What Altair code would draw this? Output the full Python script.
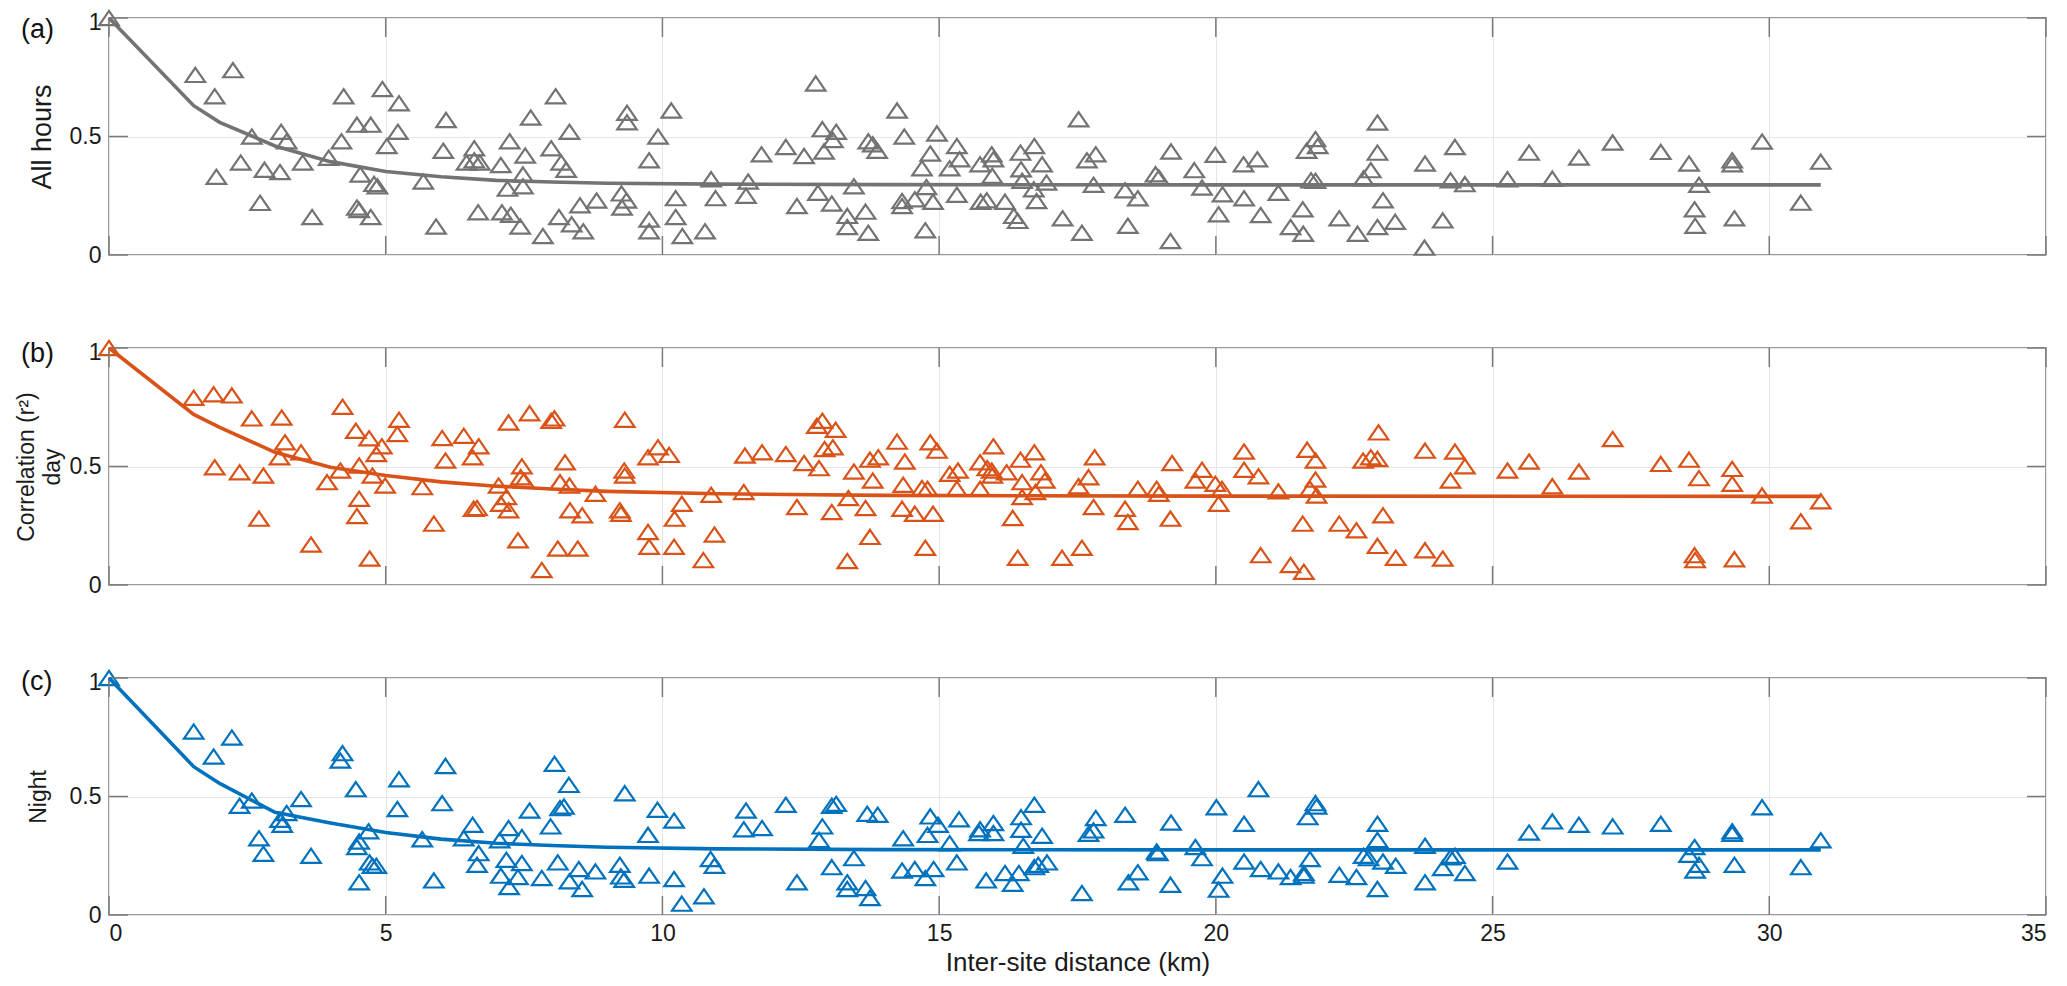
import pandas as pd
import altair as alt

# (distance km, r^2) for each pair of sites
all_hours = [
    (0, 1.0), (1.56, 0.76), (2.24, 0.78), (1.91, 0.67), (1.94, 0.33), (2.38, 0.39), (2.58, 0.50),
    (2.81, 0.36), (2.73, 0.22), (3.11, 0.52), (3.21, 0.48), (3.09, 0.35), (3.50, 0.39), (3.67, 0.16),
    (3.97, 0.41), (4.20, 0.48), (4.24, 0.67), (4.48, 0.55), (4.73, 0.55), (4.54, 0.34), (4.48, 0.20),
    (4.52, 0.19), (4.73, 0.16), (4.79, 0.30), (4.85, 0.29), (4.94, 0.70), (5.02, 0.46), (5.24, 0.64),
    (5.22, 0.52), (5.68, 0.31), (5.91, 0.12), (6.09, 0.57), (6.04, 0.44), (6.46, 0.39), (6.60, 0.45),
    (6.60, 0.40), (6.70, 0.39), (6.67, 0.18), (7.08, 0.38), (7.10, 0.18), (7.24, 0.48), (7.26, 0.17),
    (7.43, 0.12), (7.52, 0.42), (7.48, 0.34), (7.48, 0.29), (7.20, 0.28), (7.62, 0.58), (7.84, 0.08),
    (7.99, 0.45), (8.07, 0.67), (8.17, 0.39), (8.26, 0.36), (8.32, 0.52), (8.13, 0.16), (8.36, 0.13),
    (8.51, 0.21), (8.57, 0.10), (8.81, 0.23), (9.26, 0.26), (9.35, 0.23), (9.27, 0.20), (9.36, 0.60),
    (9.36, 0.56), (9.76, 0.40), (9.76, 0.15), (9.76, 0.10), (9.92, 0.50), (10.16, 0.61), (10.24, 0.24),
    (10.24, 0.16), (10.36, 0.08), (10.77, 0.10), (10.88, 0.32), (10.96, 0.24), (11.51, 0.25), (11.55, 0.31),
    (11.79, 0.425), (12.23, 0.456), (12.56, 0.418), (12.43, 0.207), (12.77, 0.724), (12.89, 0.531),
    (13.14, 0.52), (13.08, 0.485), (12.92, 0.437), (12.81, 0.263), (13.06, 0.217), (13.46, 0.29),
    (13.34, 0.165), (13.34, 0.118), (13.67, 0.183), (13.72, 0.094), (13.72, 0.48), (13.80, 0.467),
    (13.88, 0.44), (14.24, 0.61), (14.37, 0.50), (14.33, 0.228), (14.33, 0.207), (14.56, 0.235),
    (14.69, 0.366), (14.77, 0.287), (14.75, 0.104), (14.84, 0.428), (14.96, 0.513), (14.89, 0.225),
    (15.19, 0.366), (15.32, 0.46), (15.37, 0.404), (15.32, 0.254), (15.74, 0.383), (15.75, 0.225),
    (15.86, 0.231), (15.95, 0.425), (15.98, 0.404), (15.96, 0.334), (16.19, 0.225), (16.35, 0.165),
    (16.42, 0.144), (16.47, 0.432), (16.48, 0.362), (16.50, 0.313), (16.72, 0.46), (16.86, 0.383),
    (16.71, 0.277), (16.94, 0.306), (16.76, 0.228), (17.23, 0.155), (17.52, 0.573), (17.67, 0.40),
    (17.83, 0.425), (17.79, 0.296), (17.58, 0.094), (18.36, 0.273), (18.59, 0.239), (18.41, 0.123),
    (18.91, 0.341), (18.97, 0.327), (19.19, 0.437), (19.18, 0.059), (19.61, 0.358), (19.75, 0.285),
    (19.99, 0.423), (20.12, 0.256), (20.05, 0.172), (20.50, 0.383), (20.75, 0.404), (20.51, 0.239),
    (20.81, 0.169), (21.13, 0.263), (21.57, 0.193), (21.35, 0.118), (21.58, 0.09), (21.64, 0.44),
    (21.80, 0.489), (21.84, 0.46), (21.72, 0.315), (21.80, 0.313), (22.23, 0.155), (22.56, 0.09),
    (22.67, 0.324), (22.80, 0.358), (22.92, 0.559), (22.92, 0.432), (23.02, 0.231), (22.92, 0.118),
    (23.24, 0.14), (23.78, 0.386), (23.77, 0.031), (24.10, 0.146), (24.32, 0.456), (24.24, 0.315),
    (24.50, 0.299), (25.27, 0.32), (25.66, 0.432), (26.08, 0.322), (26.56, 0.411), (27.17, 0.475),
    (28.04, 0.435), (28.55, 0.386), (28.73, 0.296), (28.65, 0.193), (28.66, 0.123), (29.33, 0.40),
    (29.33, 0.383), (29.37, 0.155), (29.87, 0.479), (30.57, 0.221), (30.93, 0.394),
]

day = [
    (0, 1.0), (1.53, 0.79), (1.89, 0.805), (2.22, 0.80), (1.91, 0.497), (2.36, 0.476), (2.58, 0.703),
    (2.79, 0.462), (2.71, 0.28), (3.12, 0.707), (3.18, 0.602), (3.08, 0.539), (3.47, 0.56), (3.65, 0.171),
    (3.94, 0.434), (4.18, 0.483), (4.22, 0.752), (4.46, 0.651), (4.52, 0.504), (4.70, 0.619), (4.76, 0.462),
    (4.52, 0.364), (4.48, 0.291), (4.71, 0.112), (4.83, 0.553), (4.93, 0.585), (4.99, 0.42), (5.21, 0.637),
    (5.24, 0.697), (5.66, 0.413), (5.87, 0.259), (6.02, 0.62), (6.08, 0.525), (6.41, 0.63), (6.57, 0.539),
    (6.68, 0.585), (6.59, 0.322), (6.65, 0.325), (7.04, 0.42), (7.08, 0.343), (7.18, 0.371), (7.22, 0.315),
    (7.22, 0.686), (7.39, 0.189), (7.46, 0.501), (7.44, 0.455), (7.50, 0.441), (7.60, 0.725), (7.82, 0.063),
    (7.99, 0.693), (8.05, 0.703), (8.11, 0.154), (8.15, 0.434), (8.24, 0.518), (8.32, 0.42), (8.33, 0.315),
    (8.47, 0.154), (8.55, 0.294), (8.79, 0.385), (9.23, 0.315), (9.25, 0.301), (9.31, 0.483), (9.32, 0.462),
    (9.32, 0.697), (9.74, 0.539), (9.92, 0.581), (10.12, 0.549), (9.74, 0.224), (9.76, 0.161), (10.22, 0.28),
    (10.21, 0.161), (10.35, 0.343), (10.74, 0.105), (10.88, 0.381), (10.94, 0.213), (11.49, 0.546),
    (11.47, 0.392), (11.80, 0.56), (12.23, 0.553), (12.43, 0.329), (12.56, 0.515), (12.79, 0.672),
    (12.89, 0.693), (13.13, 0.655), (12.93, 0.574), (13.08, 0.581), (12.83, 0.493), (13.06, 0.308),
    (13.34, 0.101), (13.36, 0.367), (13.46, 0.479), (13.67, 0.325), (13.75, 0.203), (13.75, 0.529),
    (13.90, 0.539), (13.80, 0.441), (14.24, 0.605), (14.38, 0.521), (14.35, 0.423), (14.33, 0.322),
    (14.56, 0.301), (14.69, 0.409), (14.79, 0.406), (14.75, 0.157), (14.84, 0.602), (14.96, 0.567),
    (14.89, 0.301), (15.19, 0.469), (15.34, 0.483), (15.32, 0.406), (15.74, 0.406), (15.74, 0.518),
    (15.87, 0.493), (15.95, 0.483), (15.96, 0.462), (15.98, 0.585), (16.22, 0.476), (16.33, 0.283),
    (16.42, 0.115), (16.47, 0.529), (16.50, 0.434), (16.50, 0.371), (16.72, 0.56), (16.84, 0.476),
    (16.91, 0.441), (16.74, 0.392), (17.22, 0.115), (17.52, 0.417), (17.58, 0.157), (17.70, 0.455),
    (17.81, 0.539), (17.79, 0.329), (18.36, 0.322), (18.41, 0.266), (18.59, 0.406), (18.93, 0.406),
    (18.97, 0.385), (19.18, 0.28), (19.21, 0.515), (19.63, 0.441), (19.75, 0.486), (19.99, 0.427),
    (20.11, 0.406), (20.05, 0.343), (20.51, 0.563), (20.51, 0.486), (20.77, 0.459), (20.81, 0.126),
    (21.13, 0.395), (21.35, 0.084), (21.59, 0.056), (21.57, 0.259), (21.65, 0.571), (21.80, 0.525),
    (21.80, 0.445), (21.70, 0.406), (21.82, 0.378), (22.23, 0.259), (22.54, 0.231), (22.66, 0.525),
    (22.80, 0.539), (22.92, 0.532), (22.94, 0.644), (23.02, 0.294), (22.92, 0.165), (23.25, 0.115),
    (23.78, 0.567), (23.78, 0.147), (24.10, 0.112), (24.32, 0.563), (24.50, 0.501), (24.24, 0.441),
    (25.27, 0.483), (25.66, 0.521), (26.08, 0.417), (26.56, 0.479), (27.17, 0.616), (28.04, 0.511),
    (28.55, 0.529), (28.73, 0.451), (28.65, 0.126), (28.66, 0.105), (29.33, 0.49), (29.33, 0.427),
    (29.37, 0.109), (29.87, 0.378), (30.57, 0.269), (30.93, 0.353),
]

night = [
    (0, 1.0), (1.53, 0.774), (1.89, 0.669), (2.22, 0.749), (2.36, 0.461), (2.58, 0.483), (2.71, 0.324),
    (2.79, 0.258), (3.09, 0.402), (3.13, 0.381), (3.21, 0.43), (3.47, 0.489), (3.65, 0.25), (4.18, 0.652),
    (4.22, 0.683), (4.46, 0.531), (4.52, 0.31), (4.48, 0.287), (4.52, 0.138), (4.69, 0.353), (4.71, 0.222),
    (4.76, 0.208), (4.83, 0.208), (5.21, 0.447), (5.24, 0.573), (5.66, 0.32), (5.87, 0.146), (6.02, 0.472),
    (6.08, 0.629), (6.41, 0.324), (6.57, 0.381), (6.68, 0.261), (6.65, 0.212), (7.06, 0.315), (7.08, 0.166),
    (7.22, 0.367), (7.18, 0.233), (7.23, 0.118), (7.39, 0.16), (7.46, 0.219), (7.46, 0.329), (7.60, 0.441),
    (7.82, 0.156), (7.98, 0.374), (8.05, 0.638), (8.15, 0.451), (8.22, 0.458), (8.31, 0.549), (8.11, 0.222),
    (8.32, 0.142), (8.49, 0.194), (8.55, 0.11), (8.79, 0.184), (9.23, 0.212), (9.25, 0.163), (9.31, 0.149),
    (9.32, 0.514), (9.74, 0.338), (9.76, 0.166), (9.91, 0.444), (10.21, 0.399), (10.21, 0.152), (10.35, 0.048),
    (10.75, 0.079), (10.87, 0.236), (10.94, 0.208), (11.51, 0.441), (11.47, 0.362), (11.80, 0.367),
    (12.23, 0.465), (12.43, 0.138), (12.83, 0.317), (12.89, 0.374), (13.06, 0.461), (13.14, 0.469),
    (13.06, 0.202), (13.46, 0.24), (13.34, 0.138), (13.34, 0.11), (13.67, 0.114), (13.75, 0.072),
    (13.70, 0.427), (13.89, 0.423), (14.35, 0.324), (14.33, 0.188), (14.56, 0.194), (14.75, 0.156),
    (14.90, 0.194), (14.79, 0.338), (14.84, 0.416), (14.98, 0.381), (15.19, 0.303), (15.32, 0.222),
    (15.36, 0.404), (15.72, 0.346), (15.74, 0.362), (15.98, 0.388), (15.98, 0.346), (15.85, 0.146),
    (16.19, 0.177), (16.33, 0.132), (16.44, 0.177), (16.48, 0.413), (16.48, 0.36), (16.52, 0.292),
    (16.72, 0.465), (16.86, 0.334), (16.72, 0.202), (16.79, 0.212), (16.95, 0.222), (17.58, 0.093),
    (17.70, 0.343), (17.79, 0.357), (17.83, 0.409), (18.36, 0.423), (18.42, 0.138), (18.59, 0.18),
    (18.93, 0.268), (18.95, 0.261), (19.19, 0.39), (19.18, 0.128), (19.63, 0.287), (19.75, 0.24),
    (20.01, 0.455), (20.12, 0.166), (20.05, 0.107), (20.51, 0.385), (20.51, 0.226), (20.77, 0.531),
    (20.81, 0.194), (21.13, 0.184), (21.35, 0.16), (21.59, 0.177), (21.59, 0.166), (21.70, 0.236),
    (21.66, 0.413), (21.80, 0.472), (21.82, 0.458), (22.23, 0.17), (22.54, 0.16), (22.67, 0.25),
    (22.76, 0.24), (22.92, 0.385), (22.92, 0.317), (23.02, 0.226), (22.92, 0.11), (23.25, 0.208),
    (23.78, 0.292), (23.78, 0.138), (24.10, 0.198), (24.24, 0.244), (24.32, 0.25), (24.50, 0.177),
    (25.27, 0.226), (25.66, 0.348), (26.08, 0.395), (26.56, 0.381), (27.17, 0.374), (28.04, 0.385),
    (28.55, 0.254), (28.65, 0.287), (28.73, 0.212), (28.66, 0.188), (29.33, 0.353), (29.33, 0.343),
    (29.37, 0.212), (29.87, 0.455), (30.57, 0.202), (30.93, 0.315),
]

# fitted decay curves, read at these distances
fit_km = [0, 1.53, 2.0, 3.0, 4.0, 5.0, 6.0, 7.0, 8.0, 9.0, 11.0, 14.0, 20.0, 30.93]
fit_all = [1.0, 0.63, 0.56, 0.46, 0.394, 0.352, 0.33, 0.315, 0.308, 0.303, 0.299, 0.297, 0.296, 0.296]
fit_day = [1.0, 0.72, 0.665, 0.56, 0.497, 0.462, 0.435, 0.417, 0.405, 0.395, 0.385, 0.378, 0.375, 0.374]
fit_night = [1.0, 0.626, 0.555, 0.433, 0.388, 0.348, 0.32, 0.303, 0.293, 0.286, 0.279, 0.276, 0.275, 0.275]

x_ticks = [0, 5, 10, 15, 20, 25, 30, 35]
y_ticks = [0, 0.5, 1]

W, H = 1937, 237
FONT = "Liberation Sans"
EDGE = "#7a7a7a"
TRI = "M0,-0.73L1,0.73L-1,0.73Z"
TICK = 19

xs = alt.Scale(domain=[0, 35], nice=False, zero=False)
ys = alt.Scale(domain=[0, 1], nice=False, zero=False)


def panel(points, fit, color, tag, tag_y, ytitle, title_x, title_size, bottom):
    pts = pd.DataFrame(points, columns=["km", "r2"])
    curve = pd.DataFrame({"km": fit_km, "r2": fit})
    xt = pd.DataFrame({"km": x_ticks})
    yt = pd.DataFrame({"r2": y_ticks})

    xkw = dict(values=x_ticks, format="d", grid=True, labels=bottom)
    if bottom:
        xkw.update(title="Inter-site distance (km)", labelPadding=7, titlePadding=4, titleFontSize=26)
    else:
        xkw.update(title=None)
    xaxis = alt.Axis(**xkw)

    # the "1" label sits a little below the top edge, as in the original
    yaxis = alt.Axis(values=y_ticks, format="~g", grid=True, labelPadding=8,
                     labelOffset={"condition": {"test": "datum.value == 1", "value": 4}, "value": 0},
                     title=ytitle, titleX=title_x, titleY=H / 2, titleAngle=270,
                     titleAlign="center", titleBaseline="alphabetic",
                     titleFontSize=title_size, titleLineHeight=26)

    X = alt.X("km:Q", scale=xs, axis=xaxis)
    Y = alt.Y("r2:Q", scale=ys, axis=yaxis)

    scatter = alt.Chart(pts).mark_point(
        shape=TRI, filled=False, size=380, strokeWidth=2.2, color=color, opacity=1
    ).encode(x=X, y=Y)

    line = alt.Chart(curve).mark_line(color=color, strokeWidth=3.6).encode(x=X, y=Y)

    # MATLAB-style inward ticks on all four sides
    top = alt.Chart(xt).mark_rule(color=EDGE, strokeWidth=1.5).encode(
        x=X, y=alt.value(0), y2=alt.value(TICK))
    bot = alt.Chart(xt).mark_rule(color=EDGE, strokeWidth=1.5).encode(
        x=X, y=alt.value(H), y2=alt.value(H - TICK))
    left = alt.Chart(yt).mark_rule(color=EDGE, strokeWidth=1.5).encode(
        y=Y, x=alt.value(0), x2=alt.value(TICK))
    right = alt.Chart(yt).mark_rule(color=EDGE, strokeWidth=1.5).encode(
        y=Y, x=alt.value(W), x2=alt.value(W - TICK))

    label = alt.Chart(pd.DataFrame({"tag": [tag]})).mark_text(
        align="left", baseline="middle", font=FONT, fontSize=27, color="#111"
    ).encode(x=alt.value(-88), y=alt.value(tag_y), text="tag:N")

    return alt.layer(scatter, top, bot, left, right, line, label).properties(width=W, height=H)


a = panel(all_hours, fit_all, "#737373", "(a)", 12, "All hours", -59, 27, False)
b = panel(day, fit_day, "#D95319", "(b)", 6, ["Correlation (r²)", "day"], -76, 23, False)
c = panel(night, fit_night, "#0072BD", "(c)", 4, "Night", -64, 23, True)

chart = alt.vconcat(a, b, c, spacing=93, bounds="flush").properties(
    padding={"left": 6, "top": -3, "right": 0, "bottom": 0}
).configure_view(
    stroke=EDGE, strokeWidth=1.5
).configure_axis(
    domain=False, ticks=False, tickSize=0, labelFont=FONT, labelFontSize=23, labelColor="#1a1a1a",
    gridColor="#e6e6e6", gridWidth=1, titleFont=FONT, titleColor="#1a1a1a", titleFontWeight="normal"
)

chart.save("out.html", embed_options={"renderer": "svg", "actions": False})
